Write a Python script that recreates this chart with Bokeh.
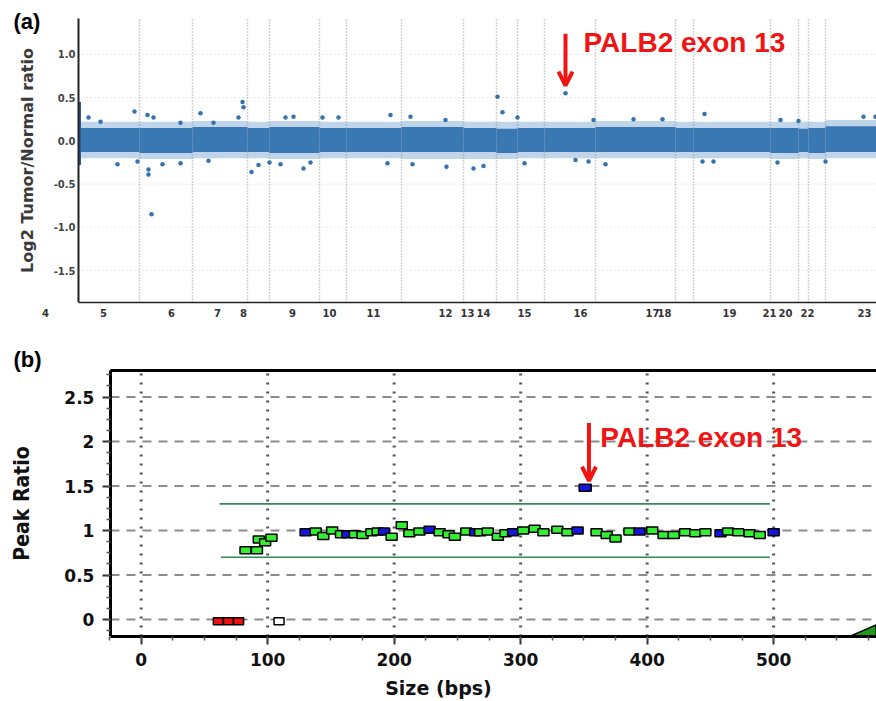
from bokeh.plotting import figure
from bokeh.layouts import column
from bokeh.models import Range1d, FixedTicker, LinearAxis, Label, Arrow, OpenHead
from bokeh.embed import file_html
from bokeh.resources import INLINE

# ---------------- Panel (a): genome-wide log2 ratio ----------------
chrom_labels = ["4", "5", "6", "7", "8", "9", "10", "11", "12", "13", "14", "15",
                "16", "17", "18", "19", "21", "20", "22", "23"]
chrom_label_x = [-33, 25, 93, 139, 165, 214, 251, 295, 367, 389, 405, 446,
                 502, 574, 586, 651, 691, 707, 729, 786]
chrom_bounds = [61, 114, 169, 191, 241, 268, 323, 385, 418, 439, 466,
                517, 597, 615, 692, 720, 730, 747]
genome_end = 798
seg_edges = [0] + chrom_bounds + [genome_end]
core_hi = [0.15, 0.15, 0.16, 0.15, 0.16, 0.15, 0.15, 0.16, 0.15, 0.14,
           0.15, 0.15, 0.16, 0.15, 0.15, 0.15, 0.14, 0.15, 0.17]
core_lo = [-0.13, -0.14, -0.13, -0.13, -0.14, -0.13, -0.13, -0.13, -0.13, -0.14,
           -0.13, -0.13, -0.13, -0.13, -0.13, -0.14, -0.13, -0.14, -0.13]
fringe_hi = [0.22, 0.22, 0.23, 0.22, 0.23, 0.22, 0.22, 0.23, 0.22, 0.22,
             0.22, 0.22, 0.23, 0.22, 0.22, 0.22, 0.22, 0.22, 0.24]
fringe_lo = [-0.20, -0.21, -0.20, -0.20, -0.21, -0.20, -0.20, -0.21, -0.21, -0.21,
             -0.20, -0.20, -0.20, -0.20, -0.20, -0.21, -0.20, -0.21, -0.20]
out_x = [10, 22, 56, 69, 75, 102, 122, 135, 160, 164, 165, 207, 215, 244, 260,
         312, 332, 367, 419, 424, 439, 487, 515, 555, 584, 626, 702, 720, 785, 797,
         39, 59, 70, 70, 73, 84, 102, 130, 173, 180, 191, 202, 225, 232, 309,
         334, 368, 395, 405, 446, 497, 510, 527, 624, 635, 699, 747]
out_y = [0.27, 0.22, 0.34, 0.30, 0.27, 0.21, 0.32, 0.21, 0.27, 0.45, 0.39, 0.27, 0.28, 0.27, 0.27,
         0.30, 0.28, 0.24, 0.51, 0.33, 0.27, 0.55, 0.24, 0.25, 0.25, 0.31, 0.24, 0.23, 0.28, 0.28,
         -0.27, -0.24, -0.33, -0.39, -0.85, -0.27, -0.26, -0.23, -0.36, -0.28, -0.25, -0.27, -0.32, -0.25, -0.26,
         -0.27, -0.30, -0.32, -0.29, -0.26, -0.22, -0.24, -0.27, -0.24, -0.24, -0.25, -0.24]
edge_col_x = [1]
edge_col_lo = [-0.28]
edge_col_hi = [0.45]
ya_ticks = [-1.5, -1.0, -0.5, 0.0, 0.5, 1.0]
ya_labels = ["-1.5", "-1.0", "-0.5", "0.0", "0.5", "1.0"]
ya_lo, ya_hi = -1.87, 1.42

# ---------------- Panel (b): peak ratio vs size ----------------
red_x = [61, 69, 77]
red_y = [-0.02, -0.02, -0.02]
white_x = [109]
white_y = [-0.02]
chain_x = [82.5, 91.5, 93, 98, 103,
           130, 138, 144, 151, 158, 163, 169, 175, 182, 187, 192, 198, 206, 212, 220,
           228, 236, 243, 248, 257, 264, 268, 274, 282, 288, 294, 302, 311, 318, 329,
           337, 345, 360, 368, 375, 386, 394, 404, 413, 421, 430, 438, 446, 458, 464,
           472, 481, 489, 500]
chain_y = [0.78, 0.78, 0.90, 0.87, 0.92,
           0.98, 0.99, 0.94, 1.00, 0.96, 0.96, 0.96, 0.95, 0.98, 0.99, 0.99, 0.93, 1.06, 0.97, 0.99,
           1.01, 0.98, 0.96, 0.93, 0.99, 0.98, 0.98, 0.99, 0.93, 0.97, 0.98, 1.00, 1.02, 0.98, 1.01,
           0.98, 1.00, 0.98, 0.95, 0.91, 0.99, 0.99, 1.00, 0.95, 0.95, 0.98, 0.97, 0.98, 0.97, 0.99,
           0.98, 0.97, 0.95, 0.98]
chain_kind = ["g", "g", "g", "g", "g",
              "b", "g", "g", "g", "g", "b", "g", "g", "g", "g", "b", "g", "g", "g", "g",
              "b", "g", "g", "g", "g", "b", "g", "g", "g", "g", "b", "g", "g", "g", "g",
              "g", "b", "g", "g", "g", "g", "b", "g", "g", "g", "g", "g", "g", "b", "g",
              "g", "g", "g", "b"]
palb2_x = [351]
palb2_y = [1.48]
thr_y = [1.3, 0.7]
thr_x0 = [62, 63]
thr_x1 = [497, 497]
tri_x = [560, 581, 581]
tri_y = [-0.19, -0.19, -0.06]
xb_ticks = [0, 100, 200, 300, 400, 500]
yb_ticks = [0, 0.5, 1, 1.5, 2, 2.5]
yb_labels = ["0", "0.5", "1", "1.5", "2", "2.5"]
xb_lo, xb_hi = -24.3, 581.3
yb_lo, yb_hi = -0.19, 2.80

RED = "#f01414"
BLUE_PT = "#3a78b4"

# =============== figure (a) ===============
pa = figure(width=876, height=335, output_backend="svg", toolbar_location=None, title=None,
            x_range=Range1d(-78, genome_end), y_range=Range1d(ya_lo, 1.624),
            min_border_left=0, min_border_right=0, min_border_top=0, min_border_bottom=33)
pa.outline_line_color = None
pa.grid.visible = False

ya = pa.yaxis[0]
ya.fixed_location = 0
ya.bounds = (ya_lo, ya_hi)
ya.ticker = FixedTicker(ticks=ya_ticks)
ya.major_label_overrides = dict(zip(ya_ticks, ya_labels))
ya.axis_label = "Log2 Tumor/Normal ratio"
ya.axis_label_text_font = "DejaVu Sans"
ya.axis_label_text_font_style = "bold"
ya.axis_label_text_font_size = "16px"
ya.axis_label_text_color = "#3a3a3a"
ya.axis_label_standoff = 14
ya.major_tick_line_color = None
ya.major_tick_out = 0
ya.major_tick_in = 0
ya.minor_tick_line_color = None
ya.major_label_standoff = 3
ya.major_label_text_font = "DejaVu Sans"
ya.major_label_text_font_style = "bold"
ya.major_label_text_font_size = "10px"
ya.major_label_text_color = "#444444"
ya.axis_line_width = 2
ya.axis_line_color = "#222222"

xa = pa.xaxis[0]
xa.bounds = (0, genome_end)
xa.ticker = FixedTicker(ticks=chrom_label_x)
xa.major_label_overrides = dict(zip(chrom_label_x, chrom_labels))
xa.major_tick_line_color = None
xa.major_tick_out = 0
xa.minor_tick_line_color = None
xa.major_label_standoff = 6
xa.major_label_text_font = "DejaVu Sans"
xa.major_label_text_font_style = "bold"
xa.major_label_text_font_size = "10px"
xa.major_label_text_color = "#333333"
xa.axis_line_width = 1.5
xa.axis_line_color = "#222222"

nt = len(ya_ticks)
pa.segment(x0=[0] * nt, y0=ya_ticks, x1=[genome_end] * nt, y1=ya_ticks,
           line_color="#d0d0d0", line_width=1, line_dash="1 3")
nb = len(chrom_bounds)
pa.segment(x0=chrom_bounds, y0=[ya_lo] * nb, x1=chrom_bounds, y1=[ya_hi] * nb,
           line_color="#a8a8a8", line_width=1.5, line_dash="1 2")
pa.quad(left=seg_edges[:-1], right=seg_edges[1:], top=fringe_hi, bottom=fringe_lo,
        fill_color="#4a86c0", fill_alpha=0.35, line_color=None)
pa.quad(left=seg_edges[:-1], right=seg_edges[1:], top=core_hi, bottom=core_lo,
        fill_color=BLUE_PT, line_color=None)
pa.segment(x0=edge_col_x, y0=edge_col_lo, x1=edge_col_x, y1=edge_col_hi,
           line_color="#2b5f94", line_width=3)
pa.scatter(out_x, out_y, size=4.5, fill_color="#3473b0", line_color=None)

pa.add_layout(Label(x=-65, y=1.38, text="(a)", text_baseline="middle",
                    text_font="Liberation Sans", text_font_style="bold", text_font_size="22px",
                    text_color="black"))
pa.add_layout(Arrow(x_start=487, y_start=1.24, x_end=487, y_end=0.64,
                    line_color=RED, line_width=4,
                    end=OpenHead(size=14, line_color=RED, line_width=4)))
pa.add_layout(Label(x=505, y=1.14, text="PALB2 exon 13", text_baseline="middle",
                    text_font="Liberation Sans", text_font_style="bold", text_font_size="28px",
                    text_color=RED))

# =============== figure (b) ===============
pb = figure(width=876, height=366, output_backend="svg", toolbar_location=None, title=None,
            x_range=Range1d(-111.2, xb_hi), y_range=Range1d(yb_lo, 3.192),
            min_border_left=0, min_border_right=0, min_border_top=0, min_border_bottom=64)
pb.outline_line_color = None
pb.grid.visible = False

xb_minor = [t for t in range(-25, 576, 25)]
yb_minor = [i * 0.125 for i in range(-1, 23)]
xb_ax = pb.xaxis[0]
yb_ax = pb.yaxis[0]
xb_ax.ticker = FixedTicker(ticks=xb_ticks, minor_ticks=xb_minor)
xb_ax.bounds = (xb_lo, xb_hi)
yb_ax.ticker = FixedTicker(ticks=yb_ticks, minor_ticks=yb_minor)
yb_ax.major_label_overrides = dict(zip(yb_ticks, yb_labels))
yb_ax.fixed_location = xb_lo
yb_ax.bounds = (yb_lo, yb_hi)

for ax in (xb_ax, yb_ax):
    ax.axis_line_width = 3
    ax.axis_line_color = "black"
    ax.major_tick_line_color = "#333333"
    ax.major_tick_line_width = 2
    ax.major_tick_out = 8
    ax.major_tick_in = 0
    ax.minor_tick_line_color = "#555555"
    ax.minor_tick_line_width = 1.5
    ax.minor_tick_out = 4
    ax.minor_tick_in = 0
    ax.major_label_text_font = "DejaVu Sans"
    ax.major_label_text_font_style = "bold"
    ax.major_label_text_font_size = "17px"
    ax.major_label_text_color = "#111111"
    ax.major_label_standoff = 8

xb_ax.axis_label = "Size (bps)"
xb_ax.axis_label_text_font = "DejaVu Sans"
xb_ax.axis_label_text_font_style = "bold"
xb_ax.axis_label_text_font_size = "19px"
xb_ax.axis_label_text_color = "#111111"
xb_ax.axis_label_standoff = 8
yb_ax.axis_label = "Peak Ratio"
yb_ax.axis_label_text_font = "DejaVu Sans Condensed"
yb_ax.axis_label_text_font_style = "bold"
yb_ax.axis_label_text_font_size = "21px"
yb_ax.axis_label_text_color = "#111111"
yb_ax.axis_label_standoff = 27

top_ax = LinearAxis(ticker=FixedTicker(ticks=[]), fixed_location=yb_hi, bounds=(xb_lo, xb_hi),
                    major_tick_line_color=None, minor_tick_line_color=None,
                    axis_line_width=3, axis_line_color="black")
pb.add_layout(top_ax, "above")

nyt = len(yb_ticks)
pb.segment(x0=[xb_lo] * nyt, y0=yb_ticks, x1=[xb_hi] * nyt, y1=yb_ticks,
           line_color="#8c8c8c", line_width=2, line_dash="9 7")
nxt = len(xb_ticks)
pb.segment(x0=xb_ticks, y0=[yb_lo] * nxt, x1=xb_ticks, y1=[yb_hi] * nxt,
           line_color="#555555", line_width=3, line_dash="2 7")

pb.segment(x0=thr_x0, y0=thr_y, x1=thr_x1, y1=thr_y, line_color="#2e8b57", line_width=1.6)

kind_color = {"g": "#33ee33", "b": "#1515dd"}
chain_colors = [kind_color[k] for k in chain_kind]
pb.rect(x=red_x, y=red_y, width=10, height=7, width_units="screen", height_units="screen",
        fill_color="#ee1111", line_color="black", line_width=1.5)
pb.rect(x=white_x, y=white_y, width=10, height=7, width_units="screen", height_units="screen",
        fill_color="white", line_color="black", line_width=1.5)
pb.rect(x=chain_x, y=chain_y, width=11, height=7, width_units="screen", height_units="screen",
        fill_color=chain_colors, line_color="black", line_width=1.5)
pb.rect(x=palb2_x, y=palb2_y, width=12, height=7, width_units="screen", height_units="screen",
        fill_color="#1515dd", line_color="black", line_width=1.5)
pb.patch(tri_x, tri_y, fill_color="#1f9a1f", line_color="black", line_width=1.5)

pb.add_layout(Label(x=-101, y=2.92, text="(b)", text_baseline="middle",
                    text_font="Liberation Sans", text_font_style="bold", text_font_size="22px",
                    text_color="black"))
pb.add_layout(Arrow(x_start=354, y_start=2.21, x_end=354, y_end=1.56,
                    line_color=RED, line_width=4,
                    end=OpenHead(size=14, line_color=RED, line_width=4)))
pb.add_layout(Label(x=363, y=2.05, text="PALB2 exon 13", text_baseline="middle",
                    text_font="Liberation Sans", text_font_style="bold", text_font_size="28px",
                    text_color=RED))

layout = column(pa, pb, spacing=0)
open("out.html", "w").write(file_html(layout, INLINE))
